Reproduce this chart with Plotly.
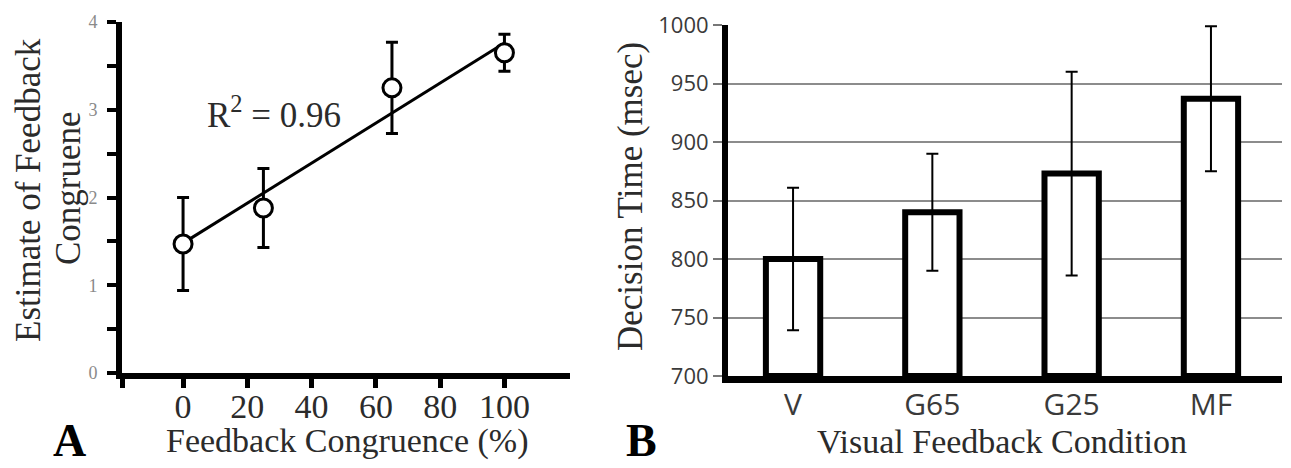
import plotly.graph_objects as go

# ---- Panel A data ----
congruence = [0, 25, 65, 100]
estimate = [1.47, 1.88, 3.25, 3.65]
estimate_err = [0.53, 0.45, 0.52, 0.21]
fit_x = [0, 100]
fit_y = [1.48, 3.76]
a_xticks = [0, 20, 40, 60, 80, 100]
a_xminor = [-19]
a_yticks = [0, 1, 2, 3, 4]
a_yminor = [0.5, 1.5, 2.5, 3.5]

# ---- Panel B data ----
conditions = ["V", "G65", "G25", "MF"]
decision_time = [800, 840, 873, 937]
decision_err = [61, 50, 87, 62]
b_yticks = [700, 750, 800, 850, 900, 950, 1000]

W, H = 1291, 468
px = lambda v: v / W
py = lambda v: 1 - v / H

SERIF = "Liberation Serif"
SANS = "Open Sans"
TXT = "#2b2b2b"

fig = go.Figure()

fig.add_trace(go.Scatter(
    x=fit_x, y=fit_y, mode="lines",
    line=dict(color="black", width=3),
    xaxis="x", yaxis="y", showlegend=False, hoverinfo="skip"))
fig.add_trace(go.Scatter(
    x=congruence, y=estimate, mode="markers",
    marker=dict(size=18, color="white", line=dict(color="black", width=3)),
    error_y=dict(type="data", array=estimate_err, color="black", thickness=3, width=6),
    xaxis="x", yaxis="y", showlegend=False))

fig.add_trace(go.Bar(
    x=list(range(len(conditions))), y=[v - 700 for v in decision_time], base=700,
    width=0.39,
    marker=dict(color="white", line=dict(color="black", width=6)),
    error_y=dict(type="data", array=decision_err, color="black", thickness=2, width=6),
    xaxis="x2", yaxis="y2", showlegend=False))

fig.update_layout(
    width=W, height=H,
    margin=dict(l=0, r=0, t=0, b=0, pad=0, autoexpand=False),
    paper_bgcolor="white", plot_bgcolor="white",
    xaxis=dict(
        domain=[px(122), px(570)], range=[-19, 120.4], anchor="y",
        automargin=False,
        showgrid=False, zeroline=False,
        showline=True, linecolor="black", linewidth=6,
        ticks="outside", ticklen=9, tickwidth=5, tickcolor="black",
        tickvals=a_xticks,
        minor=dict(tickvals=a_xminor, ticks="outside", ticklen=9, tickwidth=5, tickcolor="black"),
        ticklabelstandoff=-11,
        tickfont=dict(family=SERIF, size=34, color=TXT),
    ),
    yaxis=dict(
        domain=[py(373), py(22)], range=[0, 4], anchor="x",
        automargin=False,
        showgrid=False, zeroline=False,
        showline=True, linecolor="black", linewidth=6,
        ticks="outside", ticklen=9, tickwidth=4, tickcolor="black",
        tickvals=a_yticks,
        minor=dict(tickvals=a_yminor, ticks="outside", ticklen=9, tickwidth=4, tickcolor="black"),
        ticklabelstandoff=6,
        tickfont=dict(family=SERIF, size=18, color="#8a8a8a"),
    ),
    xaxis2=dict(
        domain=[px(728), px(1282)], range=[-0.467, 3.51], anchor="y2",
        automargin=False,
        showgrid=False, zeroline=False,
        showline=True, linecolor="black", linewidth=7,
        ticks="",
        tickvals=list(range(len(conditions))), ticktext=conditions,
        ticklabelstandoff=-4,
        tickfont=dict(family=SANS, size=30, color="#3a3a3a"),
    ),
    yaxis2=dict(
        domain=[py(376), py(25)], range=[700, 1000], anchor="x2",
        automargin=False,
        showgrid=True, gridcolor="#8c8c8c", gridwidth=2,
        zeroline=False,
        showline=True, linecolor="black", linewidth=6,
        ticks="outside", ticklen=9, tickwidth=2, tickcolor="#777777",
        tickvals=b_yticks,
        tickfont=dict(family=SANS, size=22, color="#3a3a3a"),
    ),
)

ann = []
def add(text, x, y, size, angle=0, color=TXT, bold=False, family=SERIF):
    ann.append(dict(
        text=("<b>%s</b>" % text) if bold else text,
        x=px(x), y=py(y), xref="paper", yref="paper",
        xanchor="center", yanchor="middle", showarrow=False,
        borderpad=0,
        textangle=angle, font=dict(family=family, size=size, color=color)))

add("Estimate of Feedback", 28, 190, 35, angle=-90)
add("Congruene", 68, 188, 35, angle=-90)
add("Feedback Congruence (%)", 347, 441, 34)
add("R<sup>2</sup> = 0.96", 274, 112, 35)
add("A", 69, 440, 46, color="black", bold=True)
add("Decision Time (msec)", 630, 197, 35, angle=-90)
add("Visual Feedback Condition", 1002, 441, 34)
add("B", 641, 440, 46, color="black", bold=True)
fig.update_layout(annotations=ann)

fig.write_html("out.html",
               config={"displayModeBar": False},
               post_script="document.body.style.margin='0';document.body.style.padding='0';")
